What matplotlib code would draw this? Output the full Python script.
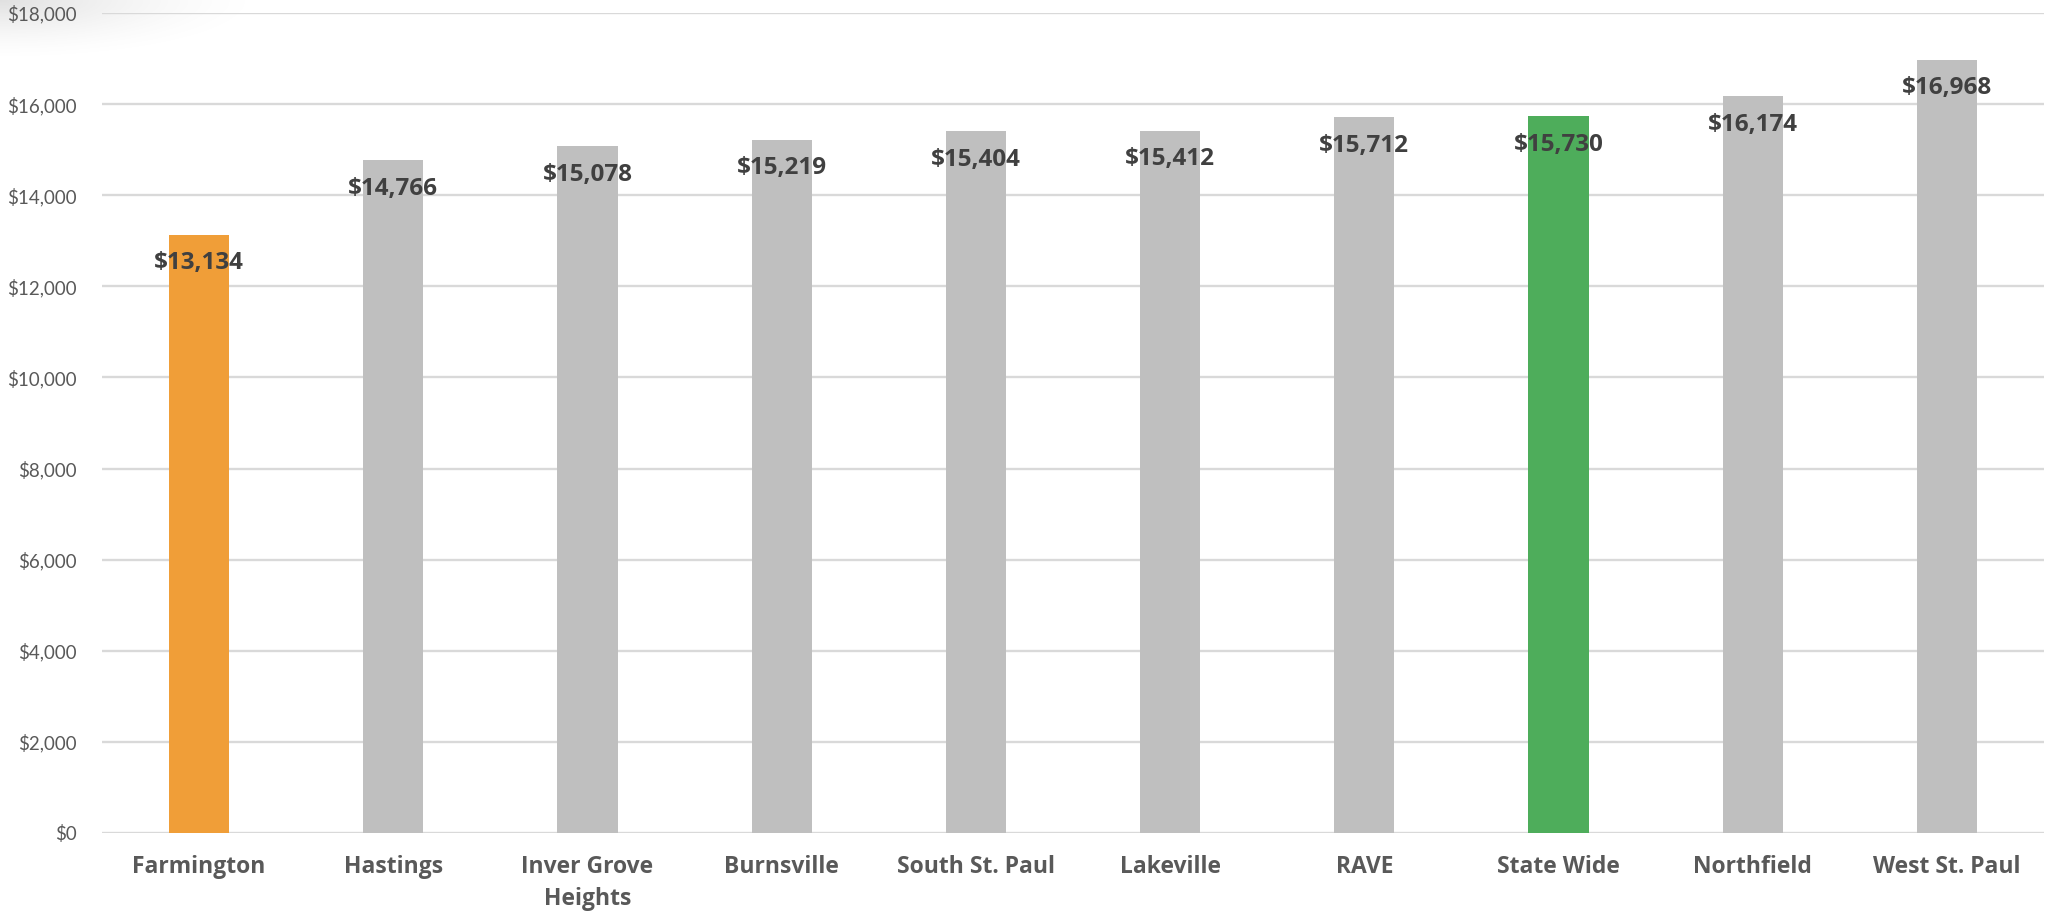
import numpy as np
import matplotlib
matplotlib.use('Agg')
import matplotlib.pyplot as plt

districts = ["Farmington", "Hastings", "Inver Grove\nHeights", "Burnsville",
             "South St. Paul", "Lakeville", "RAVE", "State Wide",
             "Northfield", "West St. Paul"]
spending = [13134, 14766, 15078, 15219, 15404, 15412, 15712, 15730, 16174, 16968]
bar_colors = ["#F09E38", "#BFBFBF", "#BFBFBF", "#BFBFBF", "#BFBFBF",
              "#BFBFBF", "#BFBFBF", "#4EAD5B", "#BFBFBF", "#BFBFBF"]
yticks = list(range(0, 18001, 2000))

plt.rcParams['font.family'] = ['Lato', 'DejaVu Sans']
bold_font = ['Open Sans', 'DejaVu Sans']

fig = plt.figure(figsize=(20.46, 9.15), dpi=100)

# soft shadow in the top-left corner
sh = fig.add_axes([0, 1 - 60 / 915, 260 / 2046, 60 / 915], zorder=-5)
gx, gy = np.meshgrid(np.linspace(0, 1, 260), np.linspace(0, 1, 60))
shade = np.clip(1 - np.sqrt(gx ** 2 + gy ** 2), 0, 1) ** 1.5
img = np.ones((60, 260, 4))
img[..., :3] = 0.6
img[..., 3] = shade * 0.3
sh.imshow(img, aspect='auto', interpolation='bilinear')
sh.axis('off')

ax = fig.add_axes([102 / 2046, 1 - 833 / 915, 1942 / 2046, (833 - 13) / 915])
ax.patch.set_alpha(0)

x = np.arange(len(districts))
ax.bar(x, spending, width=0.31, color=bar_colors, zorder=2)

for xi, v in zip(x, spending):
    ax.annotate(f"${v:,}", (xi, v), textcoords="offset points",
                xytext=(0, -20.5), ha='center', va='center',
                fontsize=17.5, fontweight='bold', color='#404040',
                family=bold_font, zorder=3)

ax.set_xlim(-0.5, len(districts) - 0.5)
ax.set_ylim(0, 18000)
ax.set_yticks(yticks)
ax.set_yticklabels([f"${t:,}" for t in yticks], fontsize=13.5, color='#595959')
ax.set_xticks(x)
ax.set_xticklabels(districts, fontsize=16.5, fontweight='bold', color='#595959',
                   family=bold_font, linespacing=1.45)
ax.tick_params(axis='both', length=0)
ax.tick_params(axis='y', pad=18)
ax.tick_params(axis='x', pad=16)
ax.grid(axis='y', color='#D9D9D9', linewidth=1.7, zorder=0)
for s in ['top', 'right', 'left', 'bottom']:
    ax.spines[s].set_visible(False)

plt.savefig("out.png", dpi=100)
